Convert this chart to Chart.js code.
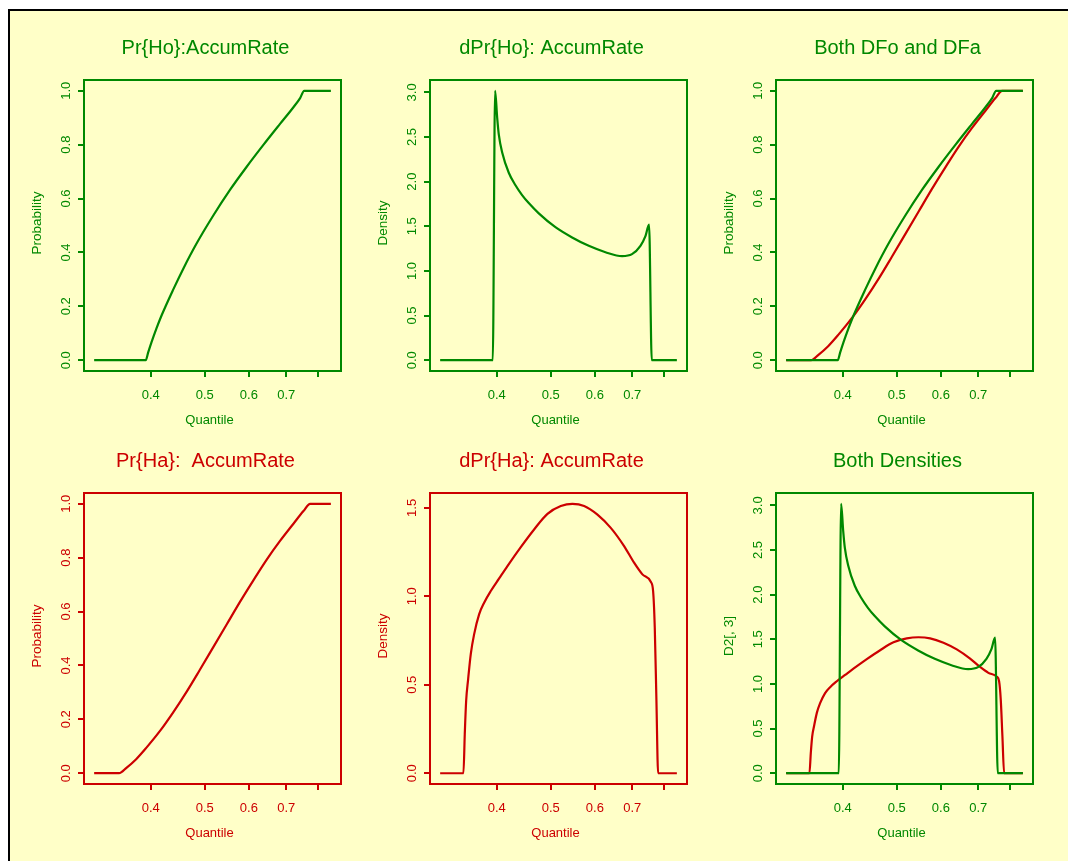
<!DOCTYPE html>
<html>
<head>
<meta charset="utf-8">
<title>AccumRate</title>
<script src="https://cdn.jsdelivr.net/npm/chart.js@4.4.1/dist/chart.umd.min.js"></script>
<style>
  html, body { margin: 0; padding: 0; background: #fff; }
  #page { position: absolute; left: 8px; top: 9px; width: 1070px; height: 860px;
          background: #ffffc8; border-top: 2px solid #000; border-left: 2px solid #000; }
  canvas { position: absolute; }
</style>
</head>
<body>
<div id="page"></div>
<canvas id="p1" width="346" height="440" style="left:10px;top:10px"></canvas>
<canvas id="p2" width="346" height="440" style="left:356px;top:10px"></canvas>
<canvas id="p3" width="346" height="440" style="left:702px;top:10px"></canvas>
<canvas id="p4" width="346" height="440" style="left:10px;top:423px"></canvas>
<canvas id="p5" width="346" height="440" style="left:356px;top:423px"></canvas>
<canvas id="p6" width="346" height="440" style="left:702px;top:423px"></canvas>
<script>
// values (x = quantile, log axis)
const hoCdfQ = [0.3165, 0.3918, 0.3956, 0.4011, 0.4095, 0.418, 0.4388, 0.4573, 0.4833, 0.5179, 0.5549, 0.5946, 0.637, 0.6824, 0.7213, 0.7415, 0.754, 0.842];
const hoCdfP = [0, 0, 0.028, 0.066, 0.118, 0.165, 0.262, 0.339, 0.433, 0.537, 0.632, 0.718, 0.799, 0.877, 0.939, 0.973, 1.0, 1.0];

const hoDenQ = [0.3165, 0.3934, 0.3972, 0.4006, 0.4033, 0.4089, 0.4203, 0.4321, 0.4441, 0.4565, 0.4758, 0.5097, 0.5461, 0.585, 0.6268, 0.6715, 0.6995, 0.7243, 0.7394, 0.7506, 0.759, 0.842];
const hoDenD = [0, 0, 3.018, 2.72, 2.53, 2.33, 2.10, 1.96, 1.85, 1.76, 1.645, 1.49, 1.375, 1.281, 1.21, 1.166, 1.188, 1.281, 1.39, 1.52, 0, 0];

const haCdfQ = [0.3165, 0.3508, 0.3617, 0.3769, 0.3929, 0.4152, 0.4388, 0.4637, 0.49, 0.5179, 0.5473, 0.5783, 0.6112, 0.6459, 0.6824, 0.7213, 0.7518, 0.7729, 0.842];
const haCdfP = [0, 0, 0.02, 0.053, 0.095, 0.156, 0.226, 0.302, 0.384, 0.468, 0.552, 0.636, 0.716, 0.793, 0.862, 0.926, 0.973, 1.0, 1.0];

const haDenQ = [0.3165, 0.3485, 0.3504, 0.3524, 0.3553, 0.3593, 0.3642, 0.3718, 0.3796, 0.3902, 0.4039, 0.418, 0.4417, 0.4667, 0.4932, 0.5211, 0.5468, 0.5739, 0.6064, 0.6407, 0.677, 0.7055, 0.7302, 0.7559, 0.7632, 0.7685, 0.7738, 0.7792, 0.842];
const haDenD = [0, 0, 0.22, 0.408, 0.531, 0.676, 0.785, 0.898, 0.964, 1.03, 1.101, 1.171, 1.278, 1.378, 1.466, 1.51, 1.523, 1.511, 1.462, 1.387, 1.284, 1.19, 1.124, 1.082, 1.03, 0.822, 0.408, 0, 0];

const xTicks = [0.4, 0.5, 0.6, 0.7, 0.8];
const xTickLabels = ['0.4', '0.5', '0.6', '0.7', ''];
const probTicks = [0, 0.2, 0.4, 0.6, 0.8, 1.0];
const densTicks = [0, 0.5, 1.0, 1.5, 2.0, 2.5, 3.0];
const haDensTicks = [0, 0.5, 1.0, 1.5];

const GREEN = '#008800', RED = '#cc0000';
const FONT = '"Liberation Sans", Arial, Helvetica, sans-serif';

// R style frame, tick labels and titles
const rFrame = {
  id: 'rFrame',
  afterDraw(chart, args, o) {
    const { ctx, chartArea: a, scales } = chart;
    const midX = (a.left + a.right) / 2, midY = (a.top + a.bottom) / 2;
    ctx.save();
    ctx.strokeStyle = o.color; ctx.fillStyle = o.color; ctx.lineWidth = 2;
    ctx.strokeRect(a.left, a.top, a.right - a.left, a.bottom - a.top);
    ctx.textAlign = 'center'; ctx.textBaseline = 'alphabetic';
    ctx.font = '13px ' + FONT;
    scales.x.ticks.forEach((t, i) => ctx.fillText(xTickLabels[i], scales.x.getPixelForValue(t.value), a.bottom + 27.5));
    scales.y.ticks.forEach(t => {
      ctx.save();
      ctx.translate(a.left - 14, scales.y.getPixelForValue(t.value));
      ctx.rotate(-Math.PI / 2);
      ctx.fillText(t.value.toFixed(1), 0, 0);
      ctx.restore();
    });
    ctx.fillText('Quantile', midX - 3, a.bottom + 53);
    ctx.save();
    ctx.font = '13.5px ' + FONT;
    ctx.translate(a.left - 43.5, midY - 2.5);
    ctx.rotate(-Math.PI / 2);
    ctx.fillText(o.ylab, 0, 0);
    ctx.restore();
    ctx.font = '20px ' + FONT;
    ctx.fillText(o.title, midX - 7, a.top - 26.5);
    ctx.restore();
  }
};

function panel(id, cfg) {
  new Chart(document.getElementById(id), {
    type: 'line',
    data: {
      datasets: cfg.series.map(s => ({
        data: s.x.map((x, i) => ({ x, y: s.y[i] })),
        borderColor: s.color, borderWidth: 2.2, pointRadius: 0, fill: false,
        cubicInterpolationMode: 'monotone'   // no overshoot at the flat ends / jumps
      }))
    },
    options: {
      responsive: false, animation: false, events: [],
      layout: { padding: { left: 64, top: 70, right: 15, bottom: 69 } },
      plugins: {
        legend: { display: false }, tooltip: { enabled: false },
        rFrame: { color: cfg.color, title: cfg.title, ylab: cfg.ylab }
      },
      scales: {
        x: {
          type: 'logarithmic', min: 0.3035, max: 0.878,
          afterBuildTicks: s => { s.ticks = xTicks.map(v => ({ value: v })); },
          afterFit: s => { s.height = 10; },
          ticks: { display: false },
          border: { display: false },
          grid: { drawOnChartArea: false, tickLength: 6, color: cfg.color, lineWidth: 2 }
        },
        y: {
          type: 'linear', min: cfg.yMin, max: cfg.yMax,
          afterBuildTicks: s => { s.ticks = cfg.yTicks.map(v => ({ value: v })); },
          afterFit: s => { s.width = 10; },
          ticks: { display: false },
          border: { display: false },
          grid: { drawOnChartArea: false, tickLength: 6, color: cfg.color, lineWidth: 2 }
        }
      }
    },
    plugins: [rFrame]
  });
}

panel('p1', { title: 'Pr{Ho}:AccumRate', ylab: 'Probability', color: GREEN, yMin: -0.04, yMax: 1.04, yTicks: probTicks,
  series: [{ x: hoCdfQ, y: hoCdfP, color: GREEN }] });
panel('p2', { title: 'dPr{Ho}: AccumRate', ylab: 'Density', color: GREEN, yMin: -0.1207, yMax: 3.139, yTicks: densTicks,
  series: [{ x: hoDenQ, y: hoDenD, color: GREEN }] });
panel('p3', { title: 'Both DFo and DFa', ylab: 'Probability', color: GREEN, yMin: -0.04, yMax: 1.04, yTicks: probTicks,
  series: [{ x: hoCdfQ, y: hoCdfP, color: GREEN }, { x: haCdfQ, y: haCdfP, color: RED }] });
panel('p4', { title: 'Pr{Ha}:  AccumRate', ylab: 'Probability', color: RED, yMin: -0.04, yMax: 1.04, yTicks: probTicks,
  series: [{ x: haCdfQ, y: haCdfP, color: RED }] });
panel('p5', { title: 'dPr{Ha}: AccumRate', ylab: 'Density', color: RED, yMin: -0.0609, yMax: 1.584, yTicks: haDensTicks,
  series: [{ x: haDenQ, y: haDenD, color: RED }] });
panel('p6', { title: 'Both Densities', ylab: 'D2[, 3]', color: GREEN, yMin: -0.1207, yMax: 3.139, yTicks: densTicks,
  series: [{ x: hoDenQ, y: hoDenD, color: GREEN }, { x: haDenQ, y: haDenD, color: RED }] });
</script>
</body>
</html>
